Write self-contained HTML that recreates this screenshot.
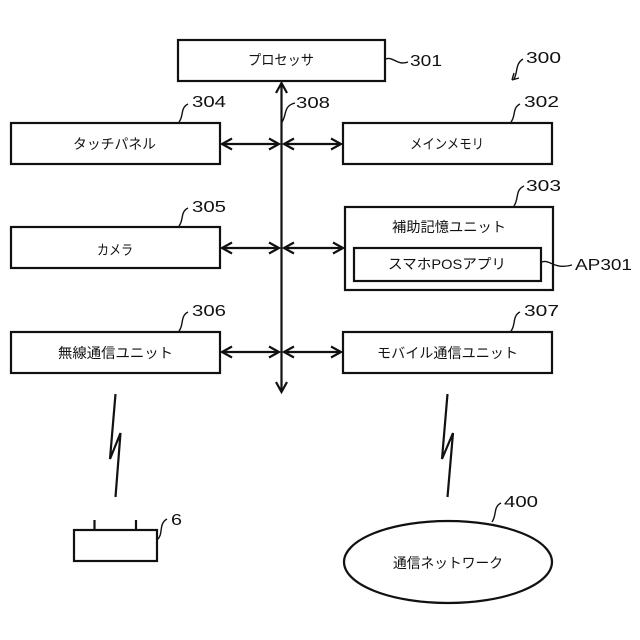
<!DOCTYPE html>
<html lang="ja"><head><meta charset="utf-8"><style>
html,body{margin:0;padding:0;background:#fff}
svg{display:block}
text{font-family:"Liberation Sans","Noto Sans CJK JP",sans-serif;fill:#111}
.l{font-size:14px}
.n{font-size:16px}
.b{fill:#fff;stroke:#111;stroke-width:2.2}
.c{fill:none;stroke:#111;stroke-width:1.4}
.a{fill:none;stroke:#111;stroke-width:2.2}
</style></head><body>
<svg width="640" height="640" viewBox="0 0 640 640" xmlns="http://www.w3.org/2000/svg">
<rect class="b" x="178" y="40" width="207" height="41"/>
<rect class="b" x="11" y="123" width="209" height="41"/>
<rect class="b" x="343" y="123" width="209" height="41"/>
<rect class="b" x="11" y="227" width="209" height="41"/>
<rect class="b" x="345" y="207" width="208" height="83"/>
<rect class="b" x="354" y="248" width="187" height="33"/>
<rect class="b" x="11" y="332" width="209" height="41"/>
<rect class="b" x="343" y="332" width="209" height="41"/>
<rect class="b" x="74" y="530" width="83" height="31"/>
<ellipse class="b" cx="448" cy="562" rx="104" ry="41"/>

<path class="a" d="M281.500 83V392"/>
<path class="a" d="M276 93L281.500 83L287 93M276 382L281.500 392L287 382"/>
<path class="a" d="M222 144H279M284 144H341M232 138.500L222 144L232 149.500M269 138.500L279 144L269 149.500M294 138.500L284 144L294 149.500M331 138.500L341 144L331 149.500"/>
<path class="a" d="M222 248H279M284 248H343M232 242.500L222 248L232 253.500M269 242.500L279 248L269 253.500M294 242.500L284 248L294 253.500M333 242.500L343 248L333 253.500"/>
<path class="a" d="M222 352H279M284 352H341M232 346.500L222 352L232 357.500M269 346.500L279 352L269 357.500M294 346.500L284 352L294 357.500M331 346.500L341 352L331 357.500"/>

<path class="a" d="M115.500 394L110 459L120.500 433L115.500 497"/>
<path class="a" d="M447.500 394L442 459L453 433L447.500 497"/>
<path class="a" d="M94.500 520V530M136 520V530"/>

<text class="l" x="248" y="65" textLength="66" lengthAdjust="spacingAndGlyphs">プロセッサ</text>
<text class="l" x="73" y="149" textLength="83" lengthAdjust="spacingAndGlyphs">タッチパネル</text>
<text class="l" x="410" y="149" textLength="74" lengthAdjust="spacingAndGlyphs">メインメモリ</text>
<text class="l" x="97" y="255" textLength="36" lengthAdjust="spacingAndGlyphs">カメラ</text>
<text class="l" x="392" y="232" textLength="114" lengthAdjust="spacingAndGlyphs">補助記憶ユニット</text>
<text class="l" x="388" y="269" textLength="118" lengthAdjust="spacingAndGlyphs">スマホPOSアプリ</text>
<text class="l" x="58" y="358" textLength="115" lengthAdjust="spacingAndGlyphs">無線通信ユニット</text>
<text class="l" x="377" y="358" textLength="141" lengthAdjust="spacingAndGlyphs">モバイル通信ユニット</text>
<text class="l" x="393" y="568" textLength="110" lengthAdjust="spacingAndGlyphs">通信ネットワーク</text>

<path class="c" d="M386 59C393 56 397 66 408 62"/>
<text class="n" x="410" y="66" textLength="32" lengthAdjust="spacingAndGlyphs">301</text>
<path class="c" d="M514 79C518 72 515 64 523 59M512 80L519 78M512 80L514 73"/>
<text class="n" x="526" y="63" textLength="35" lengthAdjust="spacingAndGlyphs">300</text>
<path class="c" d="M179 122C184 116 180 108 188 104"/>
<text class="n" x="192" y="107" textLength="34" lengthAdjust="spacingAndGlyphs">304</text>
<path class="c" d="M282 122C287 115 283 106 295 103"/>
<text class="n" x="296" y="108" textLength="34" lengthAdjust="spacingAndGlyphs">308</text>
<path class="c" d="M511 122C516 116 512 108 520 104"/>
<text class="n" x="524" y="107" textLength="35" lengthAdjust="spacingAndGlyphs">302</text>
<path class="c" d="M514 206C519 199 515 190 524 186"/>
<text class="n" x="526" y="191" textLength="35" lengthAdjust="spacingAndGlyphs">303</text>
<path class="c" d="M542 262C550 259 554 270 572 265"/>
<text class="n" x="575" y="270" textLength="57" lengthAdjust="spacingAndGlyphs">AP301</text>
<path class="c" d="M179 226C184 220 180 212 188 208"/>
<text class="n" x="192" y="212" textLength="34" lengthAdjust="spacingAndGlyphs">305</text>
<path class="c" d="M179 331C184 325 180 316 188 312"/>
<text class="n" x="192" y="316" textLength="34" lengthAdjust="spacingAndGlyphs">306</text>
<path class="c" d="M511 331C516 325 512 316 520 312"/>
<text class="n" x="524" y="316" textLength="35" lengthAdjust="spacingAndGlyphs">307</text>
<path class="c" d="M157 540C164 534 158 524 167 519"/>
<text class="n" x="171" y="525" textLength="11" lengthAdjust="spacingAndGlyphs">6</text>
<path class="c" d="M492 522C497 515 493 507 501 503"/>
<text class="n" x="504" y="507" textLength="34" lengthAdjust="spacingAndGlyphs">400</text>
</svg>
</body></html>
